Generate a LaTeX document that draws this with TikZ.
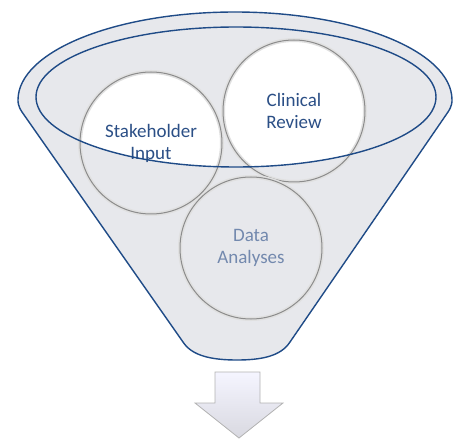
\documentclass[tikz,border=0pt]{standalone}
\usepackage{fontspec}
\setmainfont{Carlito}
\usepackage{tikz}

\definecolor{funnelblue}{HTML}{1F4B87}
\definecolor{funnelgray}{HTML}{E7E8EC}
\definecolor{labelblue}{HTML}{2B4F86}
\definecolor{fadedblue}{HTML}{7389AE}

\tikzset{
  bubble/.style={circle, minimum size=142pt, inner sep=0pt, align=center,
    draw=black!45, line width=1pt,
    preaction={draw=black!12, line width=4pt},
    font=\fontsize{19}{22}\selectfont, text=labelblue},
  rim/.style={draw=funnelblue, line width=1.4pt}
}

\begin{document}
\begin{tikzpicture}[x=1pt,y=1pt]
\useasboundingbox (0,0) rectangle (464,440);

% funnel body
\draw [rim, fill=funnelgray] (22,328) .. controls (18,334) and (18,338) .. (18,340)
  arc [start angle=180, end angle=0, x radius=217, y radius=88]
  .. controls (452,338) and (452,334) .. (448,328)
  -- (290,98) .. controls (281,84) and (262,80) .. (237,80)
  .. controls (212,80) and (192,84) .. (183,98) -- cycle;

\coordinate (shc) at (151,297);
\coordinate (crc) at (294,329);
\coordinate (dac) at (251,192);

% white inside the mouth
\begin{scope}
\clip (236,343) ellipse [x radius=200, y radius=70];
\fill [white] (shc) circle (71pt);
\fill [white] (crc) circle (71pt);
\end{scope}

\node [bubble] (sh) at (shc) {Stakeholder\\Input};
\node [bubble] (cr) at (crc) {Clinical\\Review};
\node [bubble, text=fadedblue] (da) at (dac) {Data\\Analyses};

% mouth of the funnel
\draw [rim] (236,343) ellipse [x radius=200, y radius=70];

% arrow out
\draw [draw=black!30, line width=0.8pt, top color=blue!4!white, bottom color=blue!20!black!15]
  (215,68) -- (260,68) -- (260,37) -- (283,37) -- (239,2) -- (195,37) -- (215,37) -- cycle;

\end{tikzpicture}
\end{document}
